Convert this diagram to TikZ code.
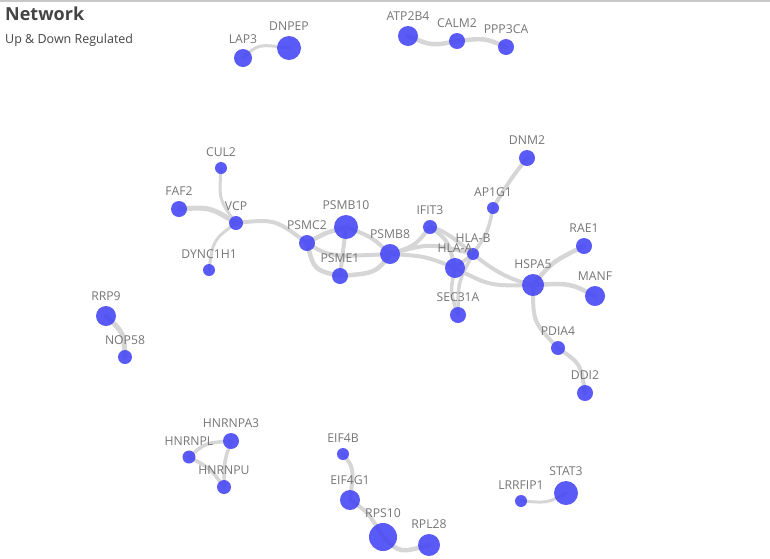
\documentclass[tikz,border=0pt]{standalone}
\usepackage{fontspec}
\setmainfont{Open Sans}
\usetikzlibrary{backgrounds}
\definecolor{nodeblue}{HTML}{4848F5}
\definecolor{edgegray}{HTML}{D6D6D6}
\definecolor{labelgray}{HTML}{757575}
\definecolor{titlegray}{HTML}{444444}
\definecolor{framegray}{HTML}{C8C8C8}
\begin{document}
\begin{tikzpicture}[x=1pt,y=-1pt,
    gene/.style={circle,fill=nodeblue,fill opacity=0.9,draw=none,inner sep=0pt,minimum size=#1},
    lbl/.style={text=labelgray,font=\fontsize{12.2}{14}\selectfont,inner sep=1pt,label distance=4pt},
    link/.style={draw=edgegray,line width=#1,line cap=round}]
  \useasboundingbox (0,0) rectangle (770,558);
  \draw[framegray,line width=1.5pt] (0,0.75) -- (770,0.75);
  % title
  \node[anchor=base west,inner sep=0pt,text=titlegray,font=\bfseries\fontsize{18}{20}\selectfont] (title) at (5,20) {Network};
  \node[anchor=base west,inner sep=0pt,text=titlegray,font=\fontsize{12.5}{14}\selectfont] (subtitle) at (5,43) {Up \& Down Regulated};
  % genes
  \node[gene=18,label={[lbl]above:LAP3}] (lap3) at (243,58) {};
  \node[gene=24,label={[lbl]above:DNPEP}] (dnpep) at (289,48) {};
  \node[gene=20,label={[lbl]above:ATP2B4}] (atp2b4) at (408,36) {};
  \node[gene=16,label={[lbl]above:CALM2}] (calm2) at (457,41) {};
  \node[gene=16,label={[lbl]above:PPP3CA}] (ppp3ca) at (506,47) {};
  \node[gene=12,label={[lbl]above:CUL2}] (cul2) at (221,168) {};
  \node[gene=16,label={[lbl]above:FAF2}] (faf2) at (179,209) {};
  \node[gene=14,label={[lbl]above:VCP}] (vcp) at (236,223) {};
  \node[gene=12,label={[lbl]above:DYNC1H1}] (dync1h1) at (209,270) {};
  \node[gene=16,label={[lbl]above:PSMC2}] (psmc2) at (307,243) {};
  \node[gene=24,label={[lbl]above:PSMB10}] (psmb10) at (346,227) {};
  \node[gene=16,label={[lbl]above:PSME1}] (psme1) at (340,276) {};
  \node[gene=20,label={[lbl]above:PSMB8}] (psmb8) at (390,254) {};
  \node[gene=14,label={[lbl]above:IFIT3}] (ifit3) at (430,227) {};
  \node[gene=12,label={[lbl]above:HLA-B}] (hlab) at (473,254) {};
  \node[gene=20,label={[lbl]above:HLA-A}] (hlaa) at (455,268) {};
  \node[gene=16,label={[lbl]above:SEC31A}] (sec31a) at (458,315) {};
  \node[gene=12,label={[lbl]above:AP1G1}] (ap1g1) at (493,208) {};
  \node[gene=16,label={[lbl]above:DNM2}] (dnm2) at (527,158) {};
  \node[gene=16,label={[lbl]above:RAE1}] (rae1) at (584,246) {};
  \node[gene=22,label={[lbl]above:HSPA5}] (hspa5) at (533,285) {};
  \node[gene=20,label={[lbl]above:MANF}] (manf) at (595,296) {};
  \node[gene=14,label={[lbl]above:PDIA4}] (pdia4) at (558,348) {};
  \node[gene=16,label={[lbl]above:DDI2}] (ddi2) at (585,393) {};
  \node[gene=20,label={[lbl]above:RRP9}] (rrp9) at (106,316) {};
  \node[gene=14,label={[lbl]above:NOP58}] (nop58) at (125,357) {};
  \node[gene=16,label={[lbl]above:HNRNPA3}] (hnrnpa3) at (231,441) {};
  \node[gene=13,label={[lbl]above:HNRNPL}] (hnrnpl) at (189,457) {};
  \node[gene=14,label={[lbl]above:HNRNPU}] (hnrnpu) at (224,487) {};
  \node[gene=12,label={[lbl]above:EIF4B}] (eif4b) at (343,454) {};
  \node[gene=20,label={[lbl]above:EIF4G1}] (eif4g1) at (350,500) {};
  \node[gene=28,label={[lbl]above:RPS10}] (rps10) at (383,537) {};
  \node[gene=22,label={[lbl]above:RPL28}] (rpl28) at (429,545) {};
  \node[gene=12,label={[lbl]above:LRRFIP1}] (lrrfip1) at (521,501) {};
  \node[gene=24,label={[lbl]above:STAT3}] (stat3) at (566,493) {};
  % links
  \begin{scope}[on background layer]
    \draw[link=3] (lap3.center) .. controls (258,44) .. (dnpep.center);
    \draw[link=4.5] (atp2b4.center) .. controls (432,46) .. (calm2.center);
    \draw[link=4.5] (calm2.center) .. controls (485,38) .. (ppp3ca.center);
    \draw[link=3] (cul2.center) .. controls (219,200) .. (vcp.center);
    \draw[link=5] (faf2.center) .. controls (210,207) .. (vcp.center);
    \draw[link=3] (dync1h1.center) .. controls (213,240) .. (vcp.center);
    \draw[link=4] (vcp.center) .. controls (275,219) .. (psmc2.center);
    \draw[link=4.5] (psmc2.center) .. controls (325,233) .. (psmb10.center);
    \draw[link=4.5] (psmc2.center) .. controls (314,270) .. (psme1.center);
    \draw[link=4] (psmc2.center) .. controls (330,257) .. (psmb8.center);
    \draw[link=4] (psmb10.center) -- (psme1.center);
    \draw[link=4] (psmb10.center) .. controls (372,237) .. (psmb8.center);
    \draw[link=4.5] (psme1.center) .. controls (376,273) .. (psmb8.center);
    \draw[link=4] (psmb8.center) .. controls (415,246) .. (ifit3.center);
    \draw[link=4] (psmb8.center) .. controls (430,243) .. (hlab.center);
    \draw[link=4] (psmb8.center) .. controls (425,256) .. (hlaa.center);
    \draw[link=4] (ifit3.center) .. controls (448,240) .. (hlaa.center);
    \draw[link=4] (ifit3.center) .. controls (462,234) and (480,274) .. (hspa5.center);
    \draw[link=3.5] (hlab.center) -- (hlaa.center);
    \draw[link=3.5] (ap1g1.center) .. controls (488,232) .. (hlab.center);
    \draw[link=3.5] (hlaa.center) .. controls (450,292) .. (sec31a.center);
    \draw[link=3.5] (hlab.center) .. controls (458,282) .. (sec31a.center);
    \draw[link=4] (hlaa.center) .. controls (490,286) .. (hspa5.center);
    \draw[link=4] (ap1g1.center) .. controls (510,180) .. (dnm2.center);
    \draw[link=4.5] (hspa5.center) .. controls (552,262) .. (rae1.center);
    \draw[link=4.5] (hspa5.center) .. controls (570,283) .. (manf.center);
    \draw[link=4] (hspa5.center) .. controls (533,322) .. (pdia4.center);
    \draw[link=4] (pdia4.center) .. controls (581,364) .. (ddi2.center);
    \draw[link=5] (rrp9.center) .. controls (124,333) .. (nop58.center);
    \draw[link=3.5] (hnrnpl.center) .. controls (205,443) .. (hnrnpa3.center);
    \draw[link=3.5] (hnrnpa3.center) .. controls (224,462) .. (hnrnpu.center);
    \draw[link=3.5] (hnrnpl.center) .. controls (210,468) .. (hnrnpu.center);
    \draw[link=4] (eif4b.center) .. controls (354,468) .. (eif4g1.center);
    \draw[link=4] (eif4g1.center) .. controls (368,512) .. (rps10.center);
    \draw[link=4.5] (rps10.center) .. controls (400,553) .. (rpl28.center);
    \draw[link=3] (lrrfip1.center) .. controls (548,503) .. (stat3.center);
  \end{scope}
\end{tikzpicture}
\end{document}
